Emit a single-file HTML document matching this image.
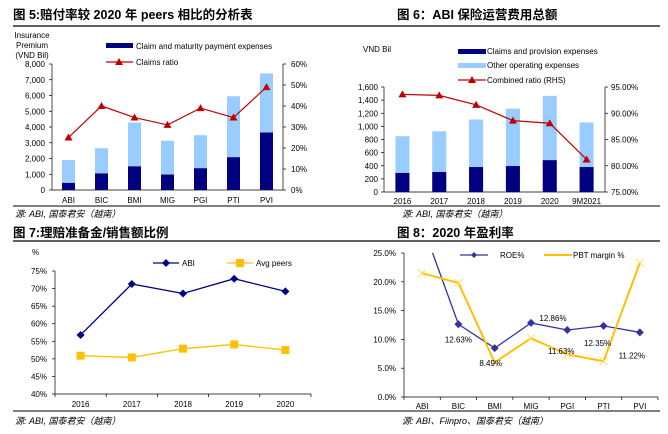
<!DOCTYPE html>
<html><head><meta charset="utf-8"><style>
body{margin:0;background:#fff}
svg{display:block;font-family:"Liberation Sans","Noto Sans CJK SC",sans-serif}
.t{font-weight:bold;font-size:12.5px;fill:#000}
.s{font-size:8px;fill:#000}
.f{font-size:9px;font-style:italic;fill:#000}
</style></head><body>
<svg id="c" width="668" height="434" viewBox="0 0 668 434">
<defs><clipPath id="cp4"><rect x="404" y="253" width="256" height="150"/></clipPath></defs>
<g>
<text class="t" x="13" y="19">图 5:赔付率较 2020 年 peers 相比的分析表</text>
<line x1="13" y1="26" x2="334" y2="26" stroke="#000" stroke-width="1.2"/>
<text class="t" x="397" y="19">图 6：ABI 保险运营费用总额</text>
<line x1="334" y1="26" x2="660" y2="26" stroke="#000" stroke-width="1.2"/>
<line x1="13" y1="206" x2="660" y2="206" stroke="#000" stroke-width="1"/>
<text class="f" x="15" y="217">源: ABI, 国泰君安（越南）</text>
<text class="f" x="402" y="217">源: ABI, 国泰君安（越南）</text>
<text class="t" x="13" y="237">图 7:理赔准备金/销售额比例</text>
<line x1="13" y1="241" x2="334" y2="241" stroke="#000" stroke-width="1.2"/>
<text class="t" x="397" y="237">图 8：2020 年盈利率</text>
<line x1="334" y1="241" x2="660" y2="241" stroke="#000" stroke-width="1.2"/>
<line x1="13" y1="411" x2="660" y2="411" stroke="#000" stroke-width="1"/>
<text class="f" x="15" y="424">源: ABI, 国泰君安（越南）</text>
<text class="f" x="402" y="424">源: ABI、Fiinpro、国泰君安（越南）</text>
</g>
<g id="g1"></g>
<g id="g2"></g>
<g id="g3"></g>
<g id="g4"></g>
</svg>
<script>
const c1Cats=["ABI","BIC","BMI","MIG","PGI","PTI","PVI"];
const c1Total=[1900,2650,4280,3130,3480,5950,7400];
const c1Claims=[450,1050,1500,980,1380,2080,3650];
const c1Ratio=[25,40,34.5,31,39,34.5,49];
const c1LTicks=["0","1,000","2,000","3,000","4,000","5,000","6,000","7,000","8,000"];
const c1RTicks=["0%","10%","20%","30%","40%","50%","60%"];
const c2Cats=["2016","2017","2018","2019","2020","9M2021"];
const c2Total=[850,925,1105,1270,1465,1060];
const c2Claims=[290,305,380,395,485,380];
const c2Ratio=[93.6,93.4,91.6,88.6,88.1,81.2];
const c2LTicks=["0","200","400","600","800","1,000","1,200","1,400","1,600"];
const c2RTicks=["75.00%","80.00%","85.00%","90.00%","95.00%"];
const c3Cats=["2016","2017","2018","2019","2020"];
const c3ABI=[56.8,71.3,68.6,72.8,69.2];
const c3Avg=[50.9,50.4,52.9,54.1,52.5];
const c3Ticks=["40%","45%","50%","55%","60%","65%","70%","75%"];
const c4Cats=["ABI","BIC","BMI","MIG","PGI","PTI","PVI"];
const c4ROE=[30,12.63,8.49,12.86,11.63,12.35,11.22];
const c4PBT=[21.5,19.8,6.0,10.2,7.4,6.2,23.3];
const c4Ticks=["0.0%","5.0%","10.0%","15.0%","20.0%","25.0%"];
const c4Labels=["","12.63%","8.49%","12.86%","11.63%","12.35%","11.22%"];

const NS="http://www.w3.org/2000/svg";
function mk(p,tag,a,txt){const e=document.createElementNS(NS,tag);for(const k in a)e.setAttribute(k,a[k]);if(txt!==undefined)e.textContent=txt;p.appendChild(e);return e;}
function lin(d0,d1,r0,r1){return v=>r0+(v-d0)/(d1-d0)*(r1-r0);}
function tri(p,x,y,col){const e=mk(p,'polygon',{points:`${x},${y-4} ${x-4},${y+3} ${x+4},${y+3}`,fill:col});

}

// Chart 1
(function(){const g=document.getElementById('g1');
const x0=52,x1=283,sp=(x1-x0)/c1Cats.length;const xc=i=>x0+sp*(i+0.5);
const y=lin(0,8000,190,64),yr=lin(0,60,190,64);
mk(g,'line',{x1:x0,y1:64,x2:x0,y2:190,stroke:'#000','stroke-width':0.7});
mk(g,'line',{x1:x1,y1:64,x2:x1,y2:190,stroke:'#000','stroke-width':0.7});
mk(g,'line',{x1:x0,y1:190,x2:x1,y2:190,stroke:'#000','stroke-width':0.7});
c1LTicks.forEach((t,i)=>{const yy=y(i*1000);mk(g,'line',{x1:x0-3,y1:yy,x2:x0,y2:yy,stroke:'#000','stroke-width':0.7});
const e=mk(g,'text',{x:x0-7,y:yy+3,'text-anchor':'end',class:'s'},t);});
c1RTicks.forEach((t,i)=>{const yy=yr(i*10);mk(g,'line',{x1:x1,y1:yy,x2:x1+3,y2:yy,stroke:'#000','stroke-width':0.7});
const e=mk(g,'text',{x:x1+8,y:yy+3,class:'s'},t);});
c1Cats.forEach((c,i)=>{const cx=xc(i);
let b=mk(g,'rect',{x:cx-6.5,y:y(c1Total[i]),width:13,height:190-y(c1Total[i]),fill:'#99ccff'});
b=mk(g,'rect',{x:cx-6.5,y:y(c1Claims[i]),width:13,height:190-y(c1Claims[i]),fill:'#000080'});
const e=mk(g,'text',{x:cx,y:203,'text-anchor':'middle',class:'s'},c);});
const l=mk(g,'polyline',{points:c1Ratio.map((v,i)=>xc(i)+','+yr(v)).join(' '),fill:'none',stroke:'#c00000','stroke-width':1.2});
c1Ratio.forEach((v,i)=>tri(g,xc(i),yr(v),'#c00000'));
mk(g,'text',{x:32,y:38,class:'s','text-anchor':'middle'},'Insurance');mk(g,'text',{x:32,y:48,class:'s','text-anchor':'middle'},'Premium');mk(g,'text',{x:32,y:58,class:'s','text-anchor':'middle'},'(VND Bil)');
mk(g,'rect',{x:106,y:43,width:27,height:5,fill:'#000080'});mk(g,'text',{x:136,y:49,class:'s','font-size':'7px'},'Claim and maturity payment expenses');
mk(g,'line',{x1:106,y1:62,x2:133,y2:62,stroke:'#c00000','stroke-width':1.2});tri(g,119,62,'#c00000');mk(g,'text',{x:136,y:65,class:'s','font-size':'7px'},'Claims ratio');
})();

// Chart 2
(function(){const g=document.getElementById('g2');
const x0=384,x1=605,sp=(x1-x0)/c2Cats.length;const xc=i=>x0+sp*(i+0.5);
const y=lin(0,1600,192,87),yr=lin(75,95,192,87);
mk(g,'line',{x1:x0,y1:87,x2:x0,y2:192,stroke:'#000','stroke-width':0.7});
mk(g,'line',{x1:x1,y1:87,x2:x1,y2:192,stroke:'#000','stroke-width':0.7});
mk(g,'line',{x1:x0,y1:192,x2:x1,y2:192,stroke:'#000','stroke-width':0.7});
c2LTicks.forEach((t,i)=>{const yy=y(i*200);mk(g,'line',{x1:x0-3,y1:yy,x2:x0,y2:yy,stroke:'#000','stroke-width':0.7});
const e=mk(g,'text',{x:x0-6,y:yy+3,'text-anchor':'end',class:'s'},t);});
c2RTicks.forEach((t,i)=>{const yy=yr(75+i*5);mk(g,'line',{x1:x1,y1:yy,x2:x1+3,y2:yy,stroke:'#000','stroke-width':0.7});
const e=mk(g,'text',{x:x1+6,y:yy+3,class:'s'},t);});
c2Cats.forEach((c,i)=>{const cx=xc(i);
let b=mk(g,'rect',{x:cx-7,y:y(c2Total[i]),width:14,height:192-y(c2Total[i]),fill:'#99ccff'});
b=mk(g,'rect',{x:cx-7,y:y(c2Claims[i]),width:14,height:192-y(c2Claims[i]),fill:'#000080'});
const e=mk(g,'text',{x:cx,y:204,'text-anchor':'middle',class:'s'},c);});
const l=mk(g,'polyline',{points:c2Ratio.map((v,i)=>xc(i)+','+yr(v)).join(' '),fill:'none',stroke:'#c00000','stroke-width':1.2});
c2Ratio.forEach((v,i)=>tri(g,xc(i),yr(v),'#c00000'));
mk(g,'text',{x:363,y:52,class:'s'},'VND Bil');
mk(g,'rect',{x:458,y:49,width:28,height:5,fill:'#000080'});mk(g,'text',{x:487,y:54,class:'s','font-size':'7px'},'Claims and provision expenses');
mk(g,'rect',{x:458,y:63,width:28,height:5,fill:'#99ccff'});mk(g,'text',{x:487,y:68,class:'s','font-size':'7px'},'Other operating expenses');
mk(g,'line',{x1:458,y1:80,x2:486,y2:80,stroke:'#c00000','stroke-width':1.2});tri(g,472,80,'#c00000');mk(g,'text',{x:487,y:83,class:'s','font-size':'7px'},'Combined ratio (RHS)');
})();

// Chart 3
(function(){const g=document.getElementById('g3');
const x0=55,x1=311,sp=(x1-x0)/c3Cats.length;const xc=i=>x0+sp*(i+0.5);
const y=lin(40,75,394,271);
mk(g,'line',{x1:x0,y1:271,x2:x0,y2:394,stroke:'#000','stroke-width':0.7});
mk(g,'line',{x1:x0,y1:394,x2:x1,y2:394,stroke:'#000','stroke-width':0.7});
c3Ticks.forEach((t,i)=>{const yy=y(40+i*5);mk(g,'line',{x1:x0-3,y1:yy,x2:x0,y2:yy,stroke:'#000','stroke-width':0.7});
const e=mk(g,'text',{x:x0-8,y:yy+3,'text-anchor':'end',class:'s'},t);});
for(let i=0;i<=c3Cats.length;i++)mk(g,'line',{x1:x0+sp*i,y1:394,x2:x0+sp*i,y2:397,stroke:'#000','stroke-width':0.7});
c3Cats.forEach((c,i)=>{const e=mk(g,'text',{x:xc(i),y:407,'text-anchor':'middle',class:'s'},c);});
let l=mk(g,'polyline',{points:c3ABI.map((v,i)=>xc(i)+','+y(v)).join(' '),fill:'none',stroke:'#000080','stroke-width':1.3});
c3ABI.forEach((v,i)=>{const e=mk(g,'polygon',{points:`${xc(i)},${y(v)-4} ${xc(i)+4},${y(v)} ${xc(i)},${y(v)+4} ${xc(i)-4},${y(v)}`,fill:'#000080'});});
l=mk(g,'polyline',{points:c3Avg.map((v,i)=>xc(i)+','+y(v)).join(' '),fill:'none',stroke:'#ffc000','stroke-width':1.3});
c3Avg.forEach((v,i)=>{const e=mk(g,'rect',{x:xc(i)-4,y:y(v)-4,width:8,height:8,fill:'#ffc000'});});
mk(g,'text',{x:32,y:255,class:'s'},'%');
mk(g,'line',{x1:153,y1:263,x2:179,y2:263,stroke:'#000080','stroke-width':1.3});mk(g,'polygon',{points:'166,259 170,263 166,267 162,263',fill:'#000080'});mk(g,'text',{x:182,y:266,class:'s'},'ABI');
mk(g,'line',{x1:227,y1:263,x2:253,y2:263,stroke:'#ffc000','stroke-width':1.3});mk(g,'rect',{x:236,y:259,width:8,height:8,fill:'#ffc000'});mk(g,'text',{x:256,y:266,class:'s'},'Avg peers');
})();

// Chart 4
const c4Dx=[0,0,-4,22,-6,-6,-8];
const c4Dy=[0,18,18,-2,24,20,26];
(function(){const g=document.getElementById('g4');
const x0=404,x1=658,sp=(x1-x0)/c4Cats.length;const xc=i=>x0+sp*(i+0.5);
const y=lin(0,25,397,253);
mk(g,'line',{x1:x0,y1:253,x2:x0,y2:397,stroke:'#000','stroke-width':0.7});
mk(g,'line',{x1:x0,y1:397,x2:x1,y2:397,stroke:'#000','stroke-width':0.7});
c4Ticks.forEach((t,i)=>{const yy=y(i*5);mk(g,'line',{x1:x0-3,y1:yy,x2:x0,y2:yy,stroke:'#000','stroke-width':0.7});
const e=mk(g,'text',{x:x0-8,y:yy+3,'text-anchor':'end',class:'s'},t);});
for(let i=0;i<=c4Cats.length;i++)mk(g,'line',{x1:x0+sp*i,y1:397,x2:x0+sp*i,y2:400,stroke:'#000','stroke-width':0.7});
c4Cats.forEach((c,i)=>{const e=mk(g,'text',{x:xc(i),y:409,'text-anchor':'middle',class:'s'},c);});
const cg=mk(g,'g',{'clip-path':'url(#cp4)'});
let l=mk(cg,'polyline',{points:c4ROE.map((v,i)=>xc(i)+','+y(v)).join(' '),fill:'none',stroke:'#3333a0','stroke-width':1.3});
c4ROE.forEach((v,i)=>{if(i===0)return;const e=mk(cg,'polygon',{points:`${xc(i)},${y(v)-4} ${xc(i)+4},${y(v)} ${xc(i)},${y(v)+4} ${xc(i)-4},${y(v)}`,fill:'#3333a0'});});
l=mk(g,'polyline',{points:c4PBT.map((v,i)=>xc(i)+','+y(v)).join(' '),fill:'none',stroke:'#ffc000','stroke-width':2});
c4PBT.forEach((v,i)=>{const X=xc(i),Y=y(v);const e=mk(g,'path',{d:`M${X-4},${Y-4}L${X+4},${Y+4}M${X-4},${Y+4}L${X+4},${Y-4}`,stroke:'#ffd966','stroke-width':1});});
c4Labels.forEach((t,i)=>{if(!t)return;const e=mk(g,'text',{x:xc(i)+c4Dx[i],y:y(c4ROE[i])+c4Dy[i],'text-anchor':'middle',class:'s'},t);});
mk(g,'line',{x1:460,y1:255,x2:488,y2:255,stroke:'#3333a0','stroke-width':1.3});mk(g,'polygon',{points:'474,252 477,255 474,258 471,255',fill:'#3333a0'});mk(g,'text',{x:500,y:258,class:'s'},'ROE%');
mk(g,'line',{x1:544,y1:255,x2:572,y2:255,stroke:'#ffc000','stroke-width':2});mk(g,'text',{x:573,y:258,class:'s'},'PBT margin %');
})();
</script>
</body></html>
